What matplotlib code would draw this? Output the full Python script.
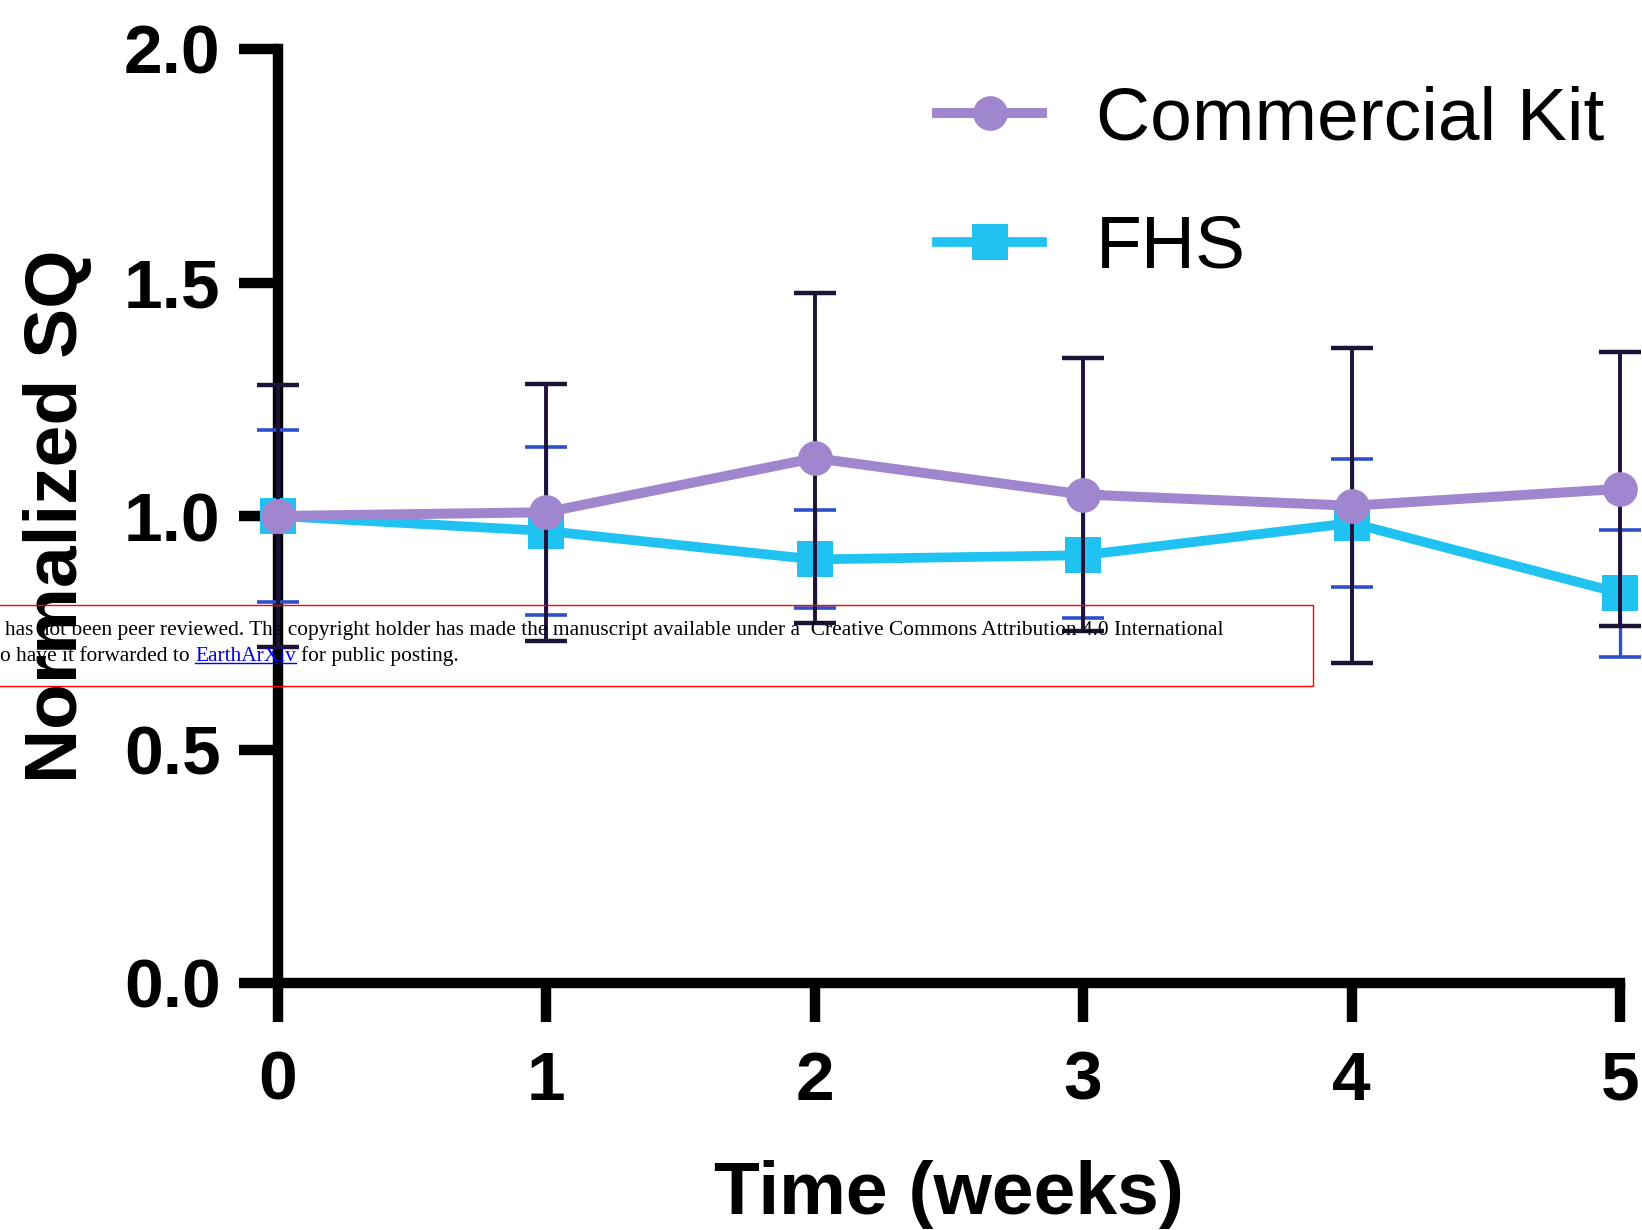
import matplotlib
matplotlib.use("Agg")
import matplotlib.pyplot as plt
from matplotlib.patches import Rectangle
from matplotlib.lines import Line2D

# ---- data ----
weeks = [0, 1, 2, 3, 4, 5]
kit_mean = [1.00, 1.008, 1.124, 1.046, 1.022, 1.058]
kit_sd = [0.28, 0.275, 0.353, 0.293, 0.337, 0.294]
fhs_mean = [1.00, 0.968, 0.907, 0.916, 0.985, 0.835]
fhs_sd = [0.184, 0.18, 0.105, 0.135, 0.137, 0.136]
series_names = ["Commercial Kit", "FHS"]
x_ticks = [0, 1, 2, 3, 4, 5]
y_ticks = [0.0, 0.5, 1.0, 1.5, 2.0]
y_ticklabels = ["0.0", "0.5", "1.0", "1.5", "2.0"]
x_label = "Time (weeks)"
y_label = "Normalized SQ"
banner_line1 = "has not been peer reviewed. The copyright holder has made the manuscript available under a  Creative Commons Attribution 4.0 International"
banner_line2_a = "o have it forwarded to"
banner_link = "EarthArXiv"
banner_line2_b = "for public posting."

# ---- style ----
PURPLE = "#a086cf"
CYAN = "#20c2f2"
DARK = "#1d1238"
BLUE = "#2d4fcc"
SANS = "Liberation Sans"
SERIF = "Liberation Serif"

fig = plt.figure(figsize=(16.42, 12.30), dpi=100)
W, H = 1642, 1230
ax = fig.add_axes([277.5 / W, 1 - 983 / H, (1620 - 277.5) / W, (983 - 49) / H])

# error bars (under the lines)
ax.errorbar(weeks, fhs_mean, yerr=fhs_sd, fmt="none", ecolor=BLUE,
            elinewidth=2.4, capsize=15, capthick=2.6, zorder=3, clip_on=False)
h_fhs, = ax.plot(weeks, fhs_mean, color=CYAN, lw=7, marker="s", ms=26,
                 mew=0, zorder=4, clip_on=False, label=series_names[1])
ax.errorbar(weeks, kit_mean, yerr=kit_sd, fmt="none", ecolor=DARK,
            elinewidth=2.8, capsize=15, capthick=3.2, zorder=5, clip_on=False)
h_kit, = ax.plot(weeks, kit_mean, color=PURPLE, lw=7.2, marker="o", ms=25,
                 mew=0, zorder=6, clip_on=False, label=series_names[0])

ax.set_xlim(0, 5)
ax.set_ylim(0, 2)
ax.set_xticks(x_ticks)
ax.set_yticks(y_ticks)
ax.set_yticklabels(y_ticklabels)
for s in ["top", "right"]:
    ax.spines[s].set_visible(False)
for s in ["left", "bottom"]:
    ax.spines[s].set_linewidth(7.5)
    ax.spines[s].set_capstyle("projecting")
ax.tick_params(axis="both", direction="out", width=7.5, length=28, color="black")
ax.tick_params(axis="y", pad=13)
ax.tick_params(axis="x", pad=20)
for lbl in ax.get_xticklabels() + ax.get_yticklabels():
    lbl.set_fontfamily(SANS)
    lbl.set_fontweight("bold")
    lbl.set_fontsize(50)

ax.set_xlabel(x_label, fontsize=54, fontweight="bold", family=SANS)
ax.set_ylabel(y_label, fontsize=54, fontweight="bold", family=SANS)
ax.xaxis.set_label_coords(0.5, -0.19)
ax.yaxis.set_label_coords(-0.138, 0.5)

leg = fig.legend(handles=[h_kit, h_fhs], loc="upper left",
                 bbox_to_anchor=(937 / W, 1 - 85 / H), frameon=False,
                 borderpad=0, borderaxespad=0, handlelength=1.4,
                 handletextpad=0.72, labelspacing=0.8,
                 prop={"family": SANS, "size": 54})

# ---- overlaid banner ----
fig.patches.append(Rectangle((-10 / W, 1 - 686 / H), (1313 + 10) / W, 81 / H,
                             transform=fig.transFigure, fill=False,
                             edgecolor="red", lw=1.0, zorder=10))
fs = 15.4
fig.text(5 / W, 1 - 635 / H, banner_line1, family=SERIF, fontsize=fs,
         color="black", va="baseline", ha="left", zorder=11)
fig.canvas.draw()
r = fig.canvas.get_renderer()
t_a = fig.text(0 / W, 1 - 661 / H, banner_line2_a, family=SERIF, fontsize=fs,
               color="black", va="baseline", ha="left", zorder=11)
ta_ext = t_a.get_window_extent(r)
tmp1 = fig.text(0, 0, "a b", family=SERIF, fontsize=fs)
tmp2 = fig.text(0, 0, "ab", family=SERIF, fontsize=fs)
space_w = tmp1.get_window_extent(r).width - tmp2.get_window_extent(r).width
tmp1.remove()
tmp2.remove()
x_link = ta_ext.x1 + space_w
t_l = fig.text(x_link / W, 1 - 661 / H, banner_link, family=SERIF, fontsize=fs,
               color="#0000ee", va="baseline", ha="left", zorder=11)
tl_ext = t_l.get_window_extent(r)
fig.lines.append(Line2D([tl_ext.x0 / W, tl_ext.x1 / W],
                        [(H - 661 - 2) / H, (H - 661 - 2) / H],
                        transform=fig.transFigure, color="#0000ee", lw=1.0,
                        zorder=11))
fig.text((tl_ext.x1 + space_w) / W, 1 - 661 / H, banner_line2_b, family=SERIF,
         fontsize=fs, color="black", va="baseline", ha="left", zorder=11)

fig.savefig("out.png", dpi=100)
